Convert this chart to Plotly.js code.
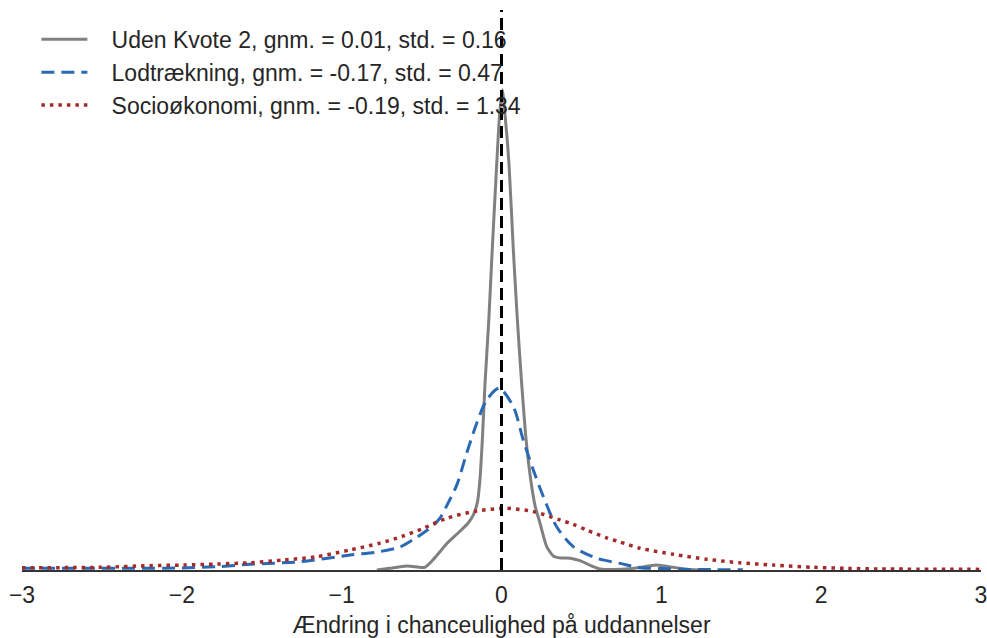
<!DOCTYPE html>
<html>
<head>
<meta charset="utf-8">
<script src="https://cdn.plot.ly/plotly-3.0.1.min.js"></script>
<style>html,body{margin:0;padding:0;background:#fff;}#chart{width:987px;height:638px;}</style>
</head>
<body>
<div id="chart"></div>
<script>
// Series names
const seriesNames = [
  "Uden Kvote 2, gnm. = 0.01, std. = 0.16",
  "Lodtrækning, gnm. = -0.17, std. = 0.47",
  "Socioøkonomi, gnm. = -0.19, std. = 1.34"
];

// Uden Kvote 2 (density curve)
const udenX = [-0.78,-0.70,-0.64,-0.59,-0.54,-0.48,-0.43,-0.34,-0.27,-0.21,-0.176,-0.15,-0.135,-0.12,-0.103,-0.08,-0.058,-0.03,-0.012,0.005,0.022,0.047,0.074,0.10,0.126,0.155,0.183,0.21,0.241,0.283,0.324,0.37,0.429,0.491,0.574,0.616,0.70,0.80,0.867,0.97,1.075,1.18,1.25];
const udenY = [0,0.008,0.015,0.019,0.016,0.013,0.048,0.129,0.18,0.226,0.266,0.33,0.435,0.628,0.903,1.2,1.546,1.96,2.2,2.32,2.2,1.96,1.546,1.2,0.903,0.62,0.435,0.31,0.226,0.113,0.068,0.058,0.057,0.045,0.016,0.005,0.002,0.006,0.013,0.024,0.013,0.002,0];

// Lodtrækning
const lodX = [-3.0,-2.6,-2.3,-2.0,-1.78,-1.57,-1.26,-0.948,-0.76,-0.635,-0.552,-0.427,-0.385,-0.343,-0.28,-0.218,-0.155,-0.093,-0.014,0.074,0.136,0.199,0.262,0.345,0.449,0.596,0.742,0.867,1.0,1.18,1.51];
const lodY = [0.008,0.008,0.008,0.010,0.016,0.028,0.040,0.072,0.089,0.111,0.147,0.215,0.25,0.31,0.41,0.564,0.709,0.821,0.878,0.789,0.628,0.483,0.354,0.209,0.113,0.057,0.032,0.011,0.007,0.003,0.001];

// Socioøkonomi
const socX = [-3.0,-2.51,-2.2,-1.99,-1.78,-1.574,-1.365,-1.157,-0.948,-0.76,-0.62,-0.49,-0.343,-0.155,0.03,0.199,0.366,0.449,0.533,0.658,0.742,0.867,1.075,1.284,1.49,1.70,1.95,2.16,2.37,3.0];
const socY = [0.011,0.013,0.021,0.024,0.029,0.035,0.048,0.064,0.097,0.130,0.163,0.201,0.250,0.285,0.298,0.282,0.242,0.22,0.193,0.155,0.135,0.105,0.076,0.052,0.035,0.024,0.013,0.008,0.005,0.003];

const xTicks = [-3,-2,-1,0,1,2,3];
const xTitle = "Ændring i chanceulighed på uddannelser";

const font = "Liberation Sans, Arial, Helvetica, sans-serif";
const pad = "\u00a0\u00a0\u00a0";

const traces = [
  {x: udenX, y: udenY, name: pad + seriesNames[0], mode: "lines",
   line: {color: "#808080", width: 3, shape: "spline", smoothing: 0.6}},
  {x: lodX, y: lodY, name: pad + seriesNames[1], mode: "lines",
   line: {color: "#2a69b3", width: 3, dash: "13px,7px", shape: "spline", smoothing: 0.8}},
  {x: socX, y: socY, name: pad + seriesNames[2], mode: "lines",
   line: {color: "#a52a2a", width: 3.5, dash: "3.5px,5px", shape: "spline", smoothing: 0.8}}
];

const layout = {
  width: 987, height: 638,
  margin: {l: 22, r: 6, t: 10, b: 68},
  paper_bgcolor: "#fff", plot_bgcolor: "#fff",
  font: {family: font, color: "#262626", size: 23},
  showlegend: true,
  legend: {x: 0.015, y: 0.986, xanchor: "left", yanchor: "top",
           bgcolor: "rgba(255,255,255,0)", font: {size: 23, color: "#262626"},
           tracegroupgap: 0, itemwidth: 46},
  xaxis: {range: [-3, 3], tickvals: xTicks, showgrid: false, zeroline: false,
          showline: true, linecolor: "#333", linewidth: 1.5, ticks: "",
          ticklabelstandoff: 4, automargin: false, ticklabeloverflow: "allow",
          tickfont: {size: 23, color: "#262626"},
          title: {text: xTitle, font: {size: 23, color: "#262626"}, standoff: 13}},
  yaxis: {range: [0, 2.705], showgrid: false, zeroline: false, showline: false,
          showticklabels: false, ticks: "", automargin: false},
  shapes: [
    {type: "line", xref: "x", yref: "paper", x0: 0, x1: 0, y0: 0, y1: 1,
     line: {color: "#000", width: 3, dash: "12px,6px"}, layer: "above"}
  ]
};

Plotly.newPlot("chart", traces, layout, {displayModeBar: false, staticPlot: true});
</script>
</body>
</html>
